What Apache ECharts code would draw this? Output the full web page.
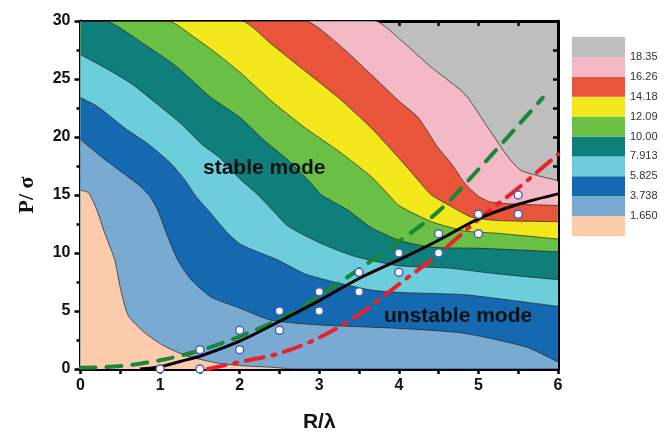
<!DOCTYPE html>
<html>
<head>
<meta charset="utf-8">
<script src="https://cdn.jsdelivr.net/npm/echarts@6/dist/echarts.min.js"></script>
<style>
  html, body { margin: 0; padding: 0; background: #fff; }
  #main { width: 668px; height: 438px; }
</style>
</head>
<body>
<div id="main"></div>
<script>
// 等值线分级
var levels = ['1.650', '3.738', '5.825', '7.913', '10.00', '12.09', '14.18', '16.26', '18.35'];
var bandColors = ['#fbcbab', '#78aad2', '#1469b0', '#6ccedb', '#0e7f7a', '#6abf45', '#f2e81c', '#e8553a', '#f4b9c6', '#bebebe'];

// 等值线边界 [R/λ, P/σ]，由低到高
var b1 = [[0, 15.4], [0.1, 15.2], [0.2, 13.8], [0.3, 11.8], [0.43, 9.4], [0.5, 7.0], [0.6, 4.6], [0.81, 3.1], [1.06, 1.95], [1.35, 1.1], [1.73, 0.5], [2.0, 0.3], [2.4, 0.15], [2.7, 0], [6, 0]];
var b2 = [[0, 19.8], [0.26, 18.3], [0.55, 16.8], [0.76, 15.7], [0.87, 14.9], [0.97, 13.7], [1.08, 11.7], [1.22, 9.4], [1.39, 7.7], [1.64, 6.2], [1.98, 5.3], [2.4, 4.2], [3.0, 3.8], [4.0, 3.5], [4.8, 3.1], [5.6, 1.9], [6, 0.6]];
var b3 = [[0, 23.4], [0.22, 22.6], [0.55, 20.8], [0.85, 19.4], [1.14, 17.7], [1.31, 16.3], [1.45, 14.9], [1.64, 13.4], [1.85, 11.7], [2.0, 10.8], [2.19, 10.2], [2.48, 9.4], [2.82, 8.2], [3.19, 7.5], [3.65, 6.8], [4.0, 6.6], [4.83, 6.4], [5.66, 5.7], [6, 5.4]];
var b4 = [[0, 27.1], [0.3, 26.0], [0.64, 24.6], [0.97, 22.8], [1.27, 21.1], [1.52, 19.4], [1.75, 18.2], [2.0, 16.4], [2.2, 15.2], [2.4, 13.8], [2.61, 12.3], [3.03, 10.8], [3.45, 9.7], [4.0, 8.9], [4.62, 8.7], [5.24, 8.2], [6, 7.7]];
var b5 = [[0, 30], [0.3, 30], [0.8, 28.0], [1.22, 26.0], [1.64, 23.4], [2.0, 21.7], [2.31, 19.7], [2.61, 18.0], [2.9, 16.0], [3.03, 15.0], [3.36, 13.7], [3.65, 12.2], [4.0, 11.1], [4.41, 10.5], [5.04, 10.4], [6, 10.1]];
var b6 = [[0, 30], [1.1, 30], [1.43, 28.6], [1.73, 27.1], [2.0, 25.6], [2.4, 23.1], [2.82, 20.8], [3.24, 18.8], [3.65, 16.6], [3.86, 15.1], [4.0, 14.1], [4.41, 12.7], [4.83, 11.9], [5.24, 11.7], [6, 11.2]];
var b7 = [[0, 30], [2.02, 30], [2.4, 28.0], [2.82, 25.7], [3.24, 23.4], [3.65, 20.8], [4.0, 18.2], [4.24, 16.3], [4.41, 15.0], [4.66, 14.0], [4.91, 13.1], [5.24, 12.8], [6, 12.7]];
var b8 = [[0, 30], [2.82, 30], [3.24, 28.0], [3.65, 25.4], [4.0, 23.1], [4.24, 21.7], [4.49, 19.1], [4.66, 17.7], [4.83, 16.0], [5.0, 14.9], [5.15, 14.4], [5.5, 14.2], [6, 14.1]];
var b9 = [[0, 30], [3.7, 30], [4.0, 28.5], [4.41, 26.0], [4.83, 23.7], [5.12, 20.8], [5.37, 18.3], [5.54, 17.1], [5.96, 16.3], [6, 16.2]];
var bounds = [b1, b2, b3, b4, b5, b6, b7, b8, b9];

// 三条曲线
var blackLine = [[0.75, 0], [1.0, 0.2], [1.25, 0.65], [1.5, 1.1], [2.0, 2.4], [2.5, 4.1], [3.0, 5.9], [3.5, 7.8], [4.0, 9.4], [4.5, 11.1], [5.0, 12.95], [5.5, 14.2], [6.0, 15.1]];
var greenLine = [[0, 0.1], [0.5, 0.25], [1.0, 0.75], [1.5, 1.6], [2.0, 2.8], [2.5, 4.3], [3.0, 6.3], [3.5, 8.6], [4.0, 11.0], [4.5, 13.6], [5.0, 17.2], [5.5, 21.0], [5.81, 23.4]];
var redLine = [[1.6, 0], [2.0, 0.6], [2.5, 1.35], [3.0, 2.7], [3.5, 4.7], [4.0, 7.3], [4.5, 9.9], [5.0, 12.9], [5.5, 15.6], [6.0, 18.5]];

// 数据点
var upperPts = [[1, 0], [1.5, 1.67], [2, 3.33], [2.5, 5], [3, 6.67], [3.5, 8.33], [4, 10], [4.5, 11.67], [5, 13.33], [5.5, 15]];
var lowerPts = [[1.5, 0], [2, 1.67], [2.5, 3.33], [3, 5], [3.5, 6.67], [4, 8.33], [4.5, 10], [5, 11.67], [5.5, 13.33]];

var tickFont = { fontFamily: 'Liberation Sans', fontWeight: 'bold', fontSize: 16, color: '#111' };

var series = [];
// 从高到低逐层覆盖填充
for (var k = bounds.length - 1; k >= 0; k--) {
    series.push({
        type: 'line',
        data: bounds[k],
        smooth: 0.2,
        symbol: 'none',
        z: 1,
        lineStyle: { color: '#222', width: 0.7 },
        areaStyle: { color: bandColors[k], opacity: 1, origin: 'start' },
        silent: true
    });
}
series.push({
    type: 'line', data: greenLine, smooth: 0.3, symbol: 'none', z: 3,
    lineStyle: { color: '#17873a', width: 4, type: [15, 11], cap: 'round' }
});
series.push({
    type: 'line', data: redLine, smooth: 0.3, symbol: 'none', z: 3,
    lineStyle: { color: '#ea2128', width: 4, type: [18, 9, 3, 9], cap: 'round' }
});
series.push({
    type: 'line', data: blackLine, smooth: 0.3, symbol: 'none', z: 4,
    lineStyle: { color: '#000', width: 3 }
});
[upperPts, lowerPts].forEach(function (pts) {
    series.push({
        type: 'scatter', data: pts, symbol: 'circle', symbolSize: 8, z: 5,
        itemStyle: { color: '#fff', borderColor: '#4b5fc4', borderWidth: 1.5, opacity: 1 }
    });
});

// 图例色条
bandColors.forEach(function (c) {
    series.push({
        type: 'bar', xAxisIndex: 2, yAxisIndex: 2, stack: 'legend',
        data: [1], barWidth: '100%', itemStyle: { color: c }, silent: true
    });
});

var my_chart = echarts.init(document.getElementById('main'), null, { renderer: 'canvas' });
var option = {
    animation: false,
    grid: [
        { left: 80.5, right: 110, top: 21, bottom: 67, show: true, backgroundColor: bandColors[9], borderWidth: 0 },
        { left: 572, width: 53, top: 37, height: 199, show: true, borderColor: '#ddd', borderWidth: 0.5 }
    ],
    xAxis: [
        {
            type: 'value', gridIndex: 0, min: 0, max: 6, interval: 1, position: 'bottom',
            name: 'R/λ', nameLocation: 'middle', nameGap: 43,
            nameTextStyle: { fontFamily: 'Liberation Sans', fontWeight: 'bold', fontSize: 21, color: '#111' },
            axisLine: { onZero: false, lineStyle: { color: '#000', width: 3 } },
            axisTick: { length: 5, lineStyle: { color: '#000', width: 2.5 } },
            minorTick: { show: true, splitNumber: 2, length: 5, lineStyle: { color: '#000', width: 2.5 } },
            axisLabel: Object.assign({ margin: 9 }, tickFont),
            splitLine: { show: false }
        },
        {
            type: 'value', gridIndex: 0, min: 0, max: 6, interval: 1, position: 'top',
            axisLine: { onZero: false, lineStyle: { color: '#000', width: 3 } },
            axisTick: { inside: true, length: 5, lineStyle: { color: '#000', width: 2.5 } },
            minorTick: { show: true, splitNumber: 2, length: 5, lineStyle: { color: '#000', width: 2.5 } },
            axisLabel: { show: false },
            splitLine: { show: false }
        },
        {
            type: 'category', gridIndex: 1, data: ['c'], show: false
        }
    ],
    yAxis: [
        {
            type: 'value', gridIndex: 0, min: 0, max: 30, interval: 5, position: 'left',
            name: 'P/ σ', nameLocation: 'middle', nameGap: 42, nameRotate: 90,
            nameTextStyle: { fontFamily: 'Liberation Serif', fontWeight: 'bold', fontSize: 22, color: '#111' },
            axisLine: { onZero: false, lineStyle: { color: '#000', width: 3 } },
            axisTick: { length: 6, lineStyle: { color: '#000', width: 2.5 } },
            minorTick: { show: true, splitNumber: 2, length: 4, lineStyle: { color: '#000', width: 2.5 } },
            axisLabel: Object.assign({ margin: 10 }, tickFont),
            splitLine: { show: false }
        },
        {
            type: 'value', gridIndex: 0, min: 0, max: 30, interval: 5, position: 'right',
            axisLine: { onZero: false, lineStyle: { color: '#000', width: 3 } },
            axisTick: { inside: true, length: 5, lineStyle: { color: '#000', width: 2.5 } },
            minorTick: { show: true, splitNumber: 2, length: 5, lineStyle: { color: '#000', width: 2.5 } },
            axisLabel: { show: false },
            splitLine: { show: false }
        },
        {
            type: 'value', gridIndex: 1, min: 0, max: 10, interval: 1, position: 'right',
            axisLine: { show: false }, axisTick: { show: false }, splitLine: { show: false },
            axisLabel: {
                margin: 5, fontFamily: 'Liberation Sans', fontSize: 11, color: '#333',
                formatter: function (v) { return (v >= 1 && v <= 9) ? levels[v - 1] : ''; }
            }
        }
    ],
    graphic: [
        { type: 'text', left: 203, top: 158, z: 10, style: { text: 'stable mode', font: 'bold 21px "Liberation Sans"', fill: '#111' } },
        { type: 'text', left: 384, top: 306, z: 10, style: { text: 'unstable mode', font: 'bold 21px "Liberation Sans"', fill: '#111' } }
    ],
    series: series
};
my_chart.setOption(option);
</script>
</body>
</html>
